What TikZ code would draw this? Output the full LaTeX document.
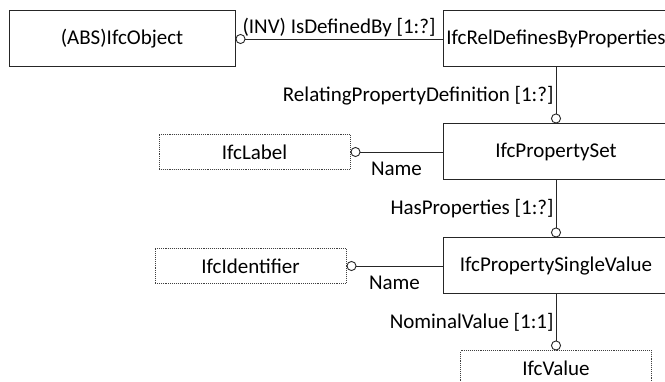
\documentclass[tikz,border=0pt]{standalone}
\usepackage{fontspec}
\setmainfont{Carlito}
\usepackage{tikz}
\usetikzlibrary{shapes,arrows.meta}
\usetikzlibrary{positioning}

\begin{document}
\begin{tikzpicture}[x=1pt, y=-1pt, font=\fontsize{21}{25}\selectfont,
	entity/.style={rectangle, minimum width=226, minimum height=56, inner xsep=1pt, draw=black!85, line width=1pt},
	typebox/.style={rectangle, minimum width=191, minimum height=35, inner xsep=1pt, draw=black!75, densely dotted, line width=0.9pt},
	attr/.style={draw=black!85, line width=0.9pt, -{Circle[open, length=10pt, width=10pt]}},
	lbl/.style={inner sep=2pt}]
	\useasboundingbox (0,0) rectangle (665,382);
	\clip (0,0) rectangle (665,382);
	\node[entity] (OBJ) at (122,39) {(ABS)IfcObject};
	\node[entity, right=207pt of OBJ] (REL) {IfcRelDefinesByProperties};
	\node[entity, below=56pt of REL] (PSET) {IfcPropertySet};
	\node[entity, below=57pt of PSET] (PSV) {IfcPropertySingleValue};
	\node[typebox, left=92pt of PSET] (LBL) {IfcLabel};
	\node[typebox, left=96pt of PSV] (IDT) {IfcIdentifier};
	\node[typebox, below=56pt of PSV] (VAL) {IfcValue};
	\draw[attr] (REL) -- node[lbl, above] {(INV) IsDefinedBy [1:?]} (OBJ);
	\draw[attr] (REL) -- node[lbl, left] {RelatingPropertyDefinition [1:?]} (PSET);
	\draw[attr] (PSET) -- node[lbl, below=8pt] {Name} (LBL);
	\draw[attr] (PSET) -- node[lbl, left] {HasProperties [1:?]} (PSV);
	\draw[attr] (PSV) -- node[lbl, below=8pt] {Name} (IDT);
	\draw[attr] (PSV) -- node[lbl, left] {NominalValue [1:1]} (VAL);
\end{tikzpicture}
\end{document}
